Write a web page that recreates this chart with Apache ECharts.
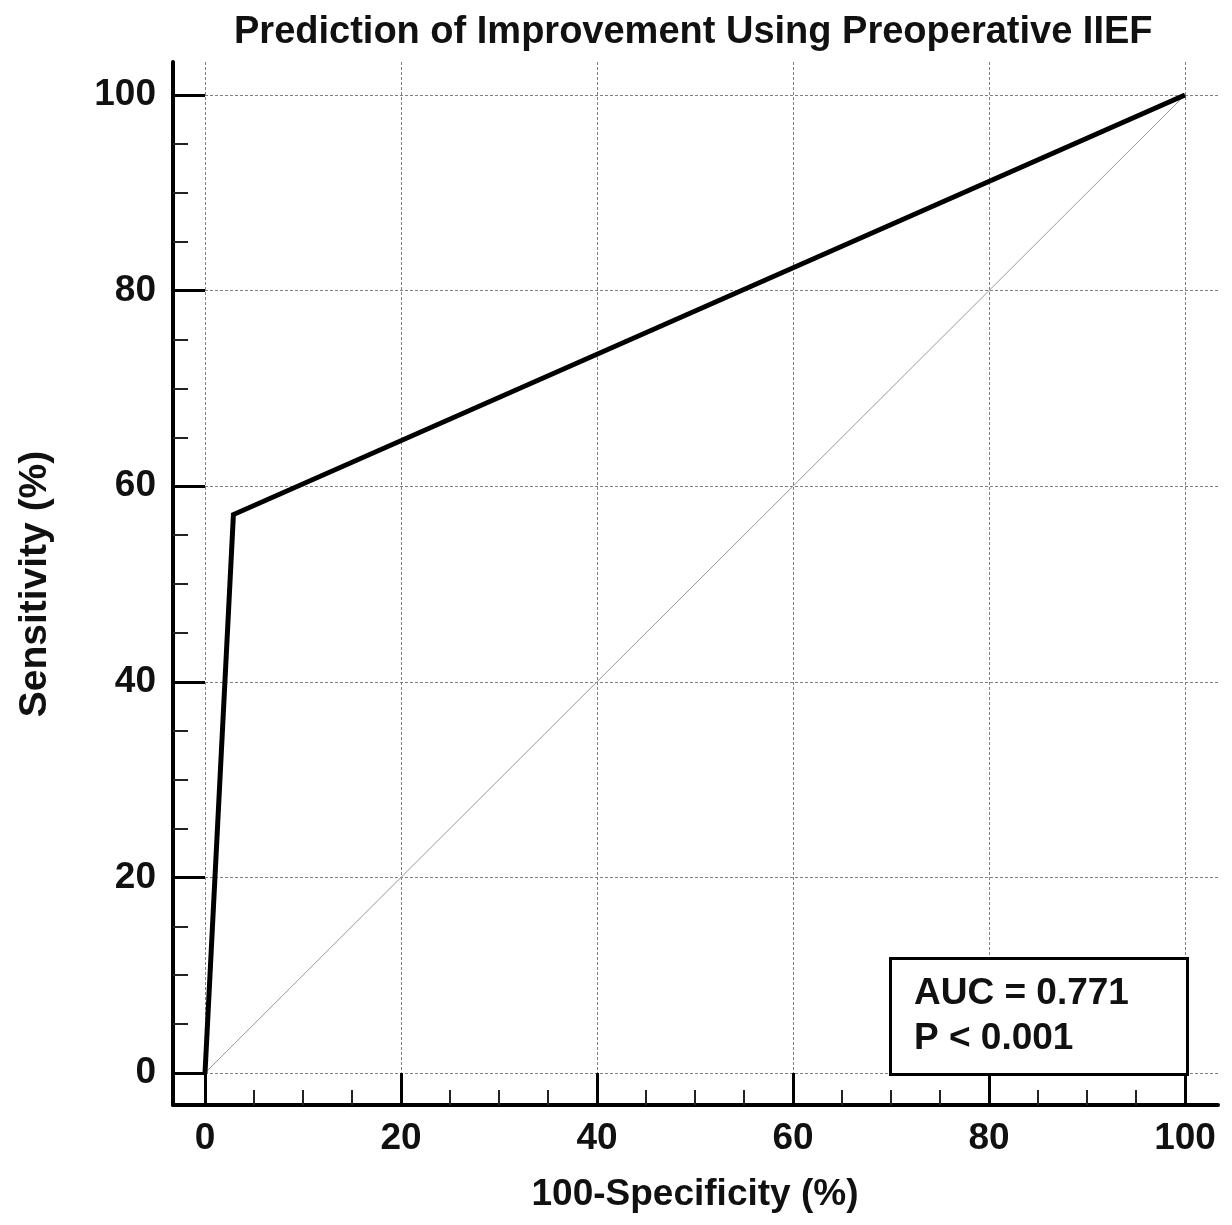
<!DOCTYPE html>
<html>
<head>
<meta charset="utf-8">
<script src="https://cdn.jsdelivr.net/npm/echarts@6/dist/echarts.min.js"></script>
<style>
html,body{margin:0;padding:0;background:#fff;}
#chart{width:1232px;height:1225px;}
</style>
</head>
<body>
<div id="chart"></div>
<script>
// ---- data ----
var rocX = [0, 2.9, 100];          // 100-Specificity (%)
var rocY = [0, 57.1, 100];         // Sensitivity (%)
var refX = [0, 100];               // reference diagonal
var refY = [0, 100];
var xTicks = [0, 20, 40, 60, 80, 100];
var yTicks = [0, 20, 40, 60, 80, 100];
var titleText = 'Prediction of Improvement Using Preoperative IIEF';
var xName = '100-Specificity (%)';
var yName = 'Sensitivity (%)';
var statLines = ['AUC = 0.771', 'P < 0.001'];

var FONT = '"Liberation Sans", Arial, Helvetica, sans-serif';

var chart = echarts.init(document.getElementById('chart'), null, {renderer: 'canvas'});

// grid geometry (pixels)
var A = {left: 205, right: 47, top: 95, bottom: 152};   // data 0..100
var B = {left: 205, right: 14, top: 62, bottom: 152};   // grid lines area
var C = {left: 173, right: 14, top: 62, bottom: 120};   // axis lines
var W = 1232, H = 1225;
var aw = W - A.left - A.right, ah = H - A.top - A.bottom;
var bw = W - B.left - B.right, bh = H - B.top - B.bottom;
var xMaxB = 100 * bw / aw, yMaxB = 100 * bh / ah;

function pairs(xs, ys) { return xs.map(function (v, i) { return [v, ys[i]]; }); }

var labelStyle = {color: '#111', fontFamily: FONT, fontWeight: 'bold', fontSize: 37};
var gridLine = {show: true, showMaxLine: false, showMinLine: true,
  lineStyle: {color: '#808080', width: 1, type: [3, 2]}};

var option = {
  backgroundColor: '#fff',
  animation: false,
  title: {
    text: titleText, left: 229, top: 9,
    textStyle: {color: '#111', fontFamily: FONT, fontWeight: 'bold', fontSize: 38}
  },
  grid: [
    {left: A.left, right: A.right, top: A.top, bottom: A.bottom},
    {left: B.left, right: B.right, top: B.top, bottom: B.bottom},
    {left: C.left, right: C.right, top: C.top, bottom: C.bottom}
  ],
  xAxis: [
    {gridIndex: 0, type: 'value', min: 0, max: 100, interval: 20, offset: 32,
     axisLine: {show: false, onZero: false},
     axisTick: {show: true, inside: true, length: 32, lineStyle: {color: '#000', width: 3}},
     minorTick: {show: true, splitNumber: 4, length: 15, lineStyle: {color: '#222', width: 2}},
     axisLabel: Object.assign({margin: 15, formatter: function (v) { return xTicks.indexOf(v) >= 0 ? String(v) : ''; }}, labelStyle),
     splitLine: {show: false},
     name: xName, nameLocation: 'middle', nameGap: 71,
     nameTextStyle: {color: '#111', fontFamily: FONT, fontWeight: 'bold', fontSize: 37}},
    {gridIndex: 1, type: 'value', min: 0, max: xMaxB, interval: 20,
     axisLine: {show: false}, axisTick: {show: false}, axisLabel: {show: false},
     splitLine: gridLine},
    {gridIndex: 2, type: 'value', min: 0, max: 1,
     axisLine: {show: true, onZero: false, lineStyle: {color: '#000', width: 4}},
     axisTick: {show: false}, axisLabel: {show: false}, splitLine: {show: false}}
  ],
  yAxis: [
    {gridIndex: 0, type: 'value', min: 0, max: 100, interval: 20, offset: 32,
     axisLine: {show: false, onZero: false},
     axisTick: {show: true, inside: true, length: 32, lineStyle: {color: '#000', width: 3}},
     minorTick: {show: true, splitNumber: 4, length: 15, lineStyle: {color: '#222', width: 2}},
     axisLabel: Object.assign({margin: 17, formatter: function (v) { return yTicks.indexOf(v) >= 0 ? String(v) : ''; }}, labelStyle),
     splitLine: {show: false},
     name: yName, nameLocation: 'middle', nameGap: 118, nameRotate: 90,
     nameTextStyle: {color: '#111', fontFamily: FONT, fontWeight: 'bold', fontSize: 39}},
    {gridIndex: 1, type: 'value', min: 0, max: yMaxB, interval: 20,
     axisLine: {show: false}, axisTick: {show: false}, axisLabel: {show: false},
     splitLine: gridLine},
    {gridIndex: 2, type: 'value', min: 0, max: 1,
     axisLine: {show: true, onZero: false, lineStyle: {color: '#000', width: 4}},
     axisTick: {show: false}, axisLabel: {show: false}, splitLine: {show: false}}
  ],
  series: [
    {type: 'line', xAxisIndex: 0, yAxisIndex: 0, data: pairs(refX, refY),
     symbol: 'none', lineStyle: {color: '#999', width: 1}, silent: true, z: 2},
    {type: 'line', xAxisIndex: 0, yAxisIndex: 0, data: pairs(rocX, rocY),
     symbol: 'none', lineStyle: {color: '#000', width: 5, join: 'miter'}, silent: true, z: 3}
  ],
  graphic: [
    {type: 'rect', left: 889, top: 957, z: 100,
     shape: {x: 0, y: 0, width: 297, height: 116},
     style: {fill: '#fff', stroke: '#000', lineWidth: 3}},
    {type: 'text', left: 914, top: 971, z: 101,
     style: {text: statLines.join('\n'), fill: '#111', font: 'bold 37px ' + FONT, lineHeight: 45}}
  ]
};
chart.setOption(option);
</script>
</body>
</html>
